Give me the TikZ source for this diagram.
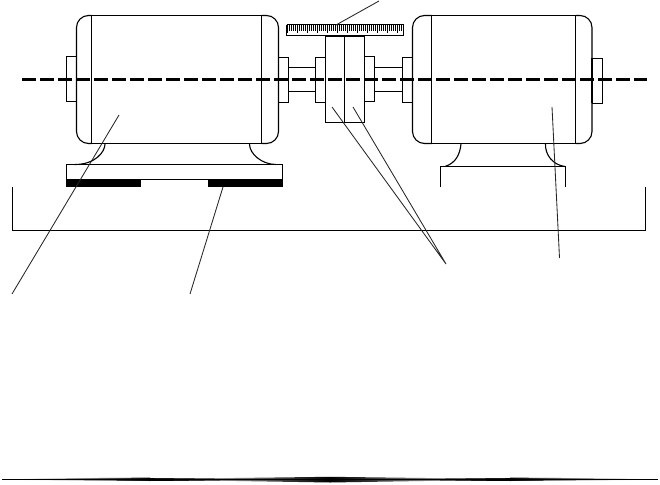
\documentclass[tikz,border=0pt]{standalone}
\tikzset{
  ln/.style={line width=1.1pt,black},
  lead/.style={line width=0.85pt,black!85},
  axisline/.style={line width=3.2pt,black,dash pattern=on 13.5pt off 4.5pt},
  blk/.style={fill=black,draw=none},
}
\begin{document}
\begin{tikzpicture}[x=1pt,y=-1pt]
\useasboundingbox (0,0) rectangle (660,484);
% motor 1
\draw[ln,rounded corners=12pt] (91.5,15.5) -- (76.5,15.5) -- (76.5,143.5) -- (91.5,143.5);
\draw[ln,rounded corners=12pt] (261.5,15.5) -- (278.5,15.5) -- (278.5,143.5) -- (261.5,143.5);
\draw[ln] (91.5,15.5) -- (261.5,15.5) (91.5,143.5) -- (261.5,143.5) (91.5,15.5) -- (91.5,143.5) (261.5,15.5) -- (261.5,143.5);
% caps and hubs
\draw[ln] (77,56.5) -- (66.5,56.5) -- (66.5,101.5) -- (77,101.5);
\draw[ln] (278,57.5) -- (288.5,57.5) -- (288.5,102.5) -- (278,102.5);
\draw[ln] (288.5,67.5) -- (315.5,67.5) (288.5,91.5) -- (315.5,91.5);
\draw[ln] (325.5,57.5) -- (315.5,57.5) -- (315.5,102.5) -- (325.5,102.5);
\draw[ln] (325.5,36) rectangle (364.5,122.5) (344.5,36) -- (344.5,122.5);
\draw[line width=1.8pt] (325.5,36) -- (364.5,36);
\draw[ln] (364.5,56.5) -- (374.5,56.5) -- (374.5,101.5) -- (364.5,101.5);
\draw[ln] (374.5,67.5) -- (402.5,67.5) (374.5,91.5) -- (402.5,91.5);
\draw[ln] (413,57.5) -- (402.5,57.5) -- (402.5,102.5) -- (413,102.5);
% scale
\draw[ln] (286.5,25) -- (286.5,35.5) -- (403.5,35.5) -- (403.5,25);
\draw[line width=1.3pt] (286.5,24.8) -- (403.5,24.8);
\foreach \i in {0,...,57}{
  \pgfmathsetmacro{\xa}{287.5+\i*2}
  \pgfmathsetmacro{\yb}{mod(\i,5)==0 ? 33 : 31}
  \draw[line width=1pt] (\xa,25) -- (\xa,\yb);
}
% motor 2
\draw[ln,rounded corners=12pt] (431.5,15.5) -- (412.5,15.5) -- (412.5,143.5) -- (431.5,143.5);
\draw[ln,rounded corners=12pt] (575.5,15.5) -- (592,15.5) -- (592,143.5) -- (575.5,143.5);
\draw[ln] (431.5,15.5) -- (575.5,15.5) (431.5,143.5) -- (575.5,143.5) (431.5,15.5) -- (431.5,143.5) (575.5,15.5) -- (575.5,143.5);
\draw[ln] (592,58.5) -- (602.5,58.5) -- (602.5,103.5) -- (592,103.5);
\draw[line width=2pt] (592,58.5) -- (592,103.5);
% feet motor 1
\draw[ln] (105,144) .. controls (105,152) and (95,164.5) .. (75,164.5);
\draw[ln] (249.5,144) .. controls (249.5,154) and (262,164.5) .. (276,164.5);
\draw[ln] (66.5,164.5) rectangle (282.5,179.5);
\fill[blk] (66,179) rectangle (141,187);
\fill[blk] (208,179) rectangle (283,187);
% feet motor 2
\draw[ln] (461,144) .. controls (460,154) and (456,163) .. (445,166.5);
\draw[ln] (545.5,144) .. controls (545,155) and (553,165) .. (565,166.5);
\draw[ln] (440.5,187) -- (440.5,166.5) -- (565.5,166.5) -- (565.5,187);
% floor
\draw[ln] (12.5,187) -- (12.5,230.5) -- (645.5,230.5) -- (645.5,187);
% axis
\draw[axisline] (22,79.5) -- (647,79.5);
% leaders
\coordinate (a1) at (119,115); \coordinate (a2) at (12,294);
\coordinate (b1) at (223,187); \coordinate (b2) at (190,294);
\coordinate (c1) at (332,107); \coordinate (c2) at (353,107); \coordinate (c3) at (446,264);
\coordinate (d1) at (552,107); \coordinate (d2) at (559.5,258);
\coordinate (e1) at (336,25); \coordinate (e2) at (379,1);
\draw[lead] (a1) -- (a2);
\draw[lead] (b1) -- (b2);
\draw[lead] (c1) -- (c3) (c2) -- (c3);
\draw[lead] (d1) -- (d2);
\draw[lead] (e1) -- (e2);
% bottom rule
\shade[left color=white,right color=black] (20,478.6) -- (150,477.6) -- (150,481) -- (20,480) -- cycle;
\fill[black] (150,477.6) rectangle (510,481);
\shade[left color=black,right color=white] (510,477.6) -- (640,478.6) -- (640,480) -- (510,481) -- cycle;
\shade[left color=white,right color=black] (130,479.3) -- (330,476.8) -- (330,482.5) -- cycle;
\shade[left color=black,right color=white] (330,476.8) -- (530,479.3) -- (330,482.5) -- cycle;
\fill[black] (2,478.5) rectangle (658,480);
\end{tikzpicture}
\end{document}
